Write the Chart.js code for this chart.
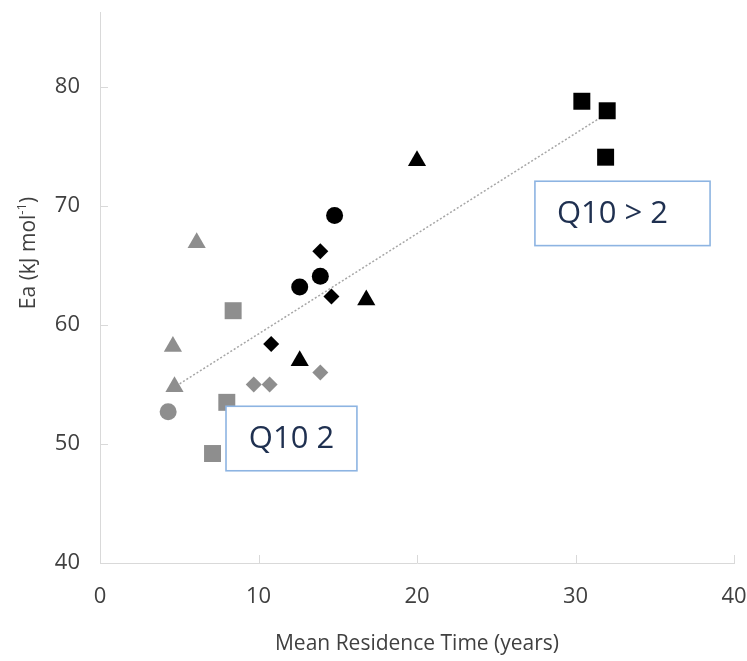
<!DOCTYPE html>
<html><head><meta charset="utf-8">
<script src="https://cdn.jsdelivr.net/npm/chart.js@4.4.1/dist/chart.umd.min.js"></script>
<style>html,body{margin:0;padding:0;background:#fff}#wrap{width:747px;height:661px;position:relative}</style>
</head><body><div id="wrap"><canvas id="c"></canvas></div>
<script>
// ---- data ----
const blackSquaresX = [30.4, 32.0, 31.9];
const blackSquaresY = [78.8, 78.0, 74.1];
const blackTrianglesX = [20.0, 16.8, 12.6];
const blackTrianglesY = [73.8, 62.1, 57.0];
const blackCirclesX = [14.8, 13.9, 12.6];
const blackCirclesY = [69.2, 64.1, 63.2];
const blackDiamondsX = [13.9, 14.6, 10.8];
const blackDiamondsY = [66.2, 62.4, 58.4];
const grayTrianglesX = [6.1, 4.6, 4.7];
const grayTrianglesY = [66.9, 58.2, 54.8];
const graySquaresX = [8.4, 8.0, 7.1];
const graySquaresY = [61.2, 53.5, 49.2];
const grayDiamondsX = [13.9, 9.7, 10.7];
const grayDiamondsY = [56.0, 55.0, 55.0];
const grayCirclesX = [4.3];
const grayCirclesY = [52.7];
const trendX = [4.6, 31.9];
const trendY = [54.7, 77.7];

const xTicks = [0, 10, 20, 30, 40];
const yTicks = [40, 50, 60, 70, 80];
const xTitle = 'Mean Residence Time (years)';
const yTitleMain = 'Ea (kJ mol';
const yTitleSup = '-1';
const yTitleEnd = ')';
const noteLabels = ['Q10 > 2', 'Q10 2'];
// annotation boxes in data units: [xLeft, xRight, yTop, yBottom]
const noteBoxes = [[27.44, 38.49, 72.08, 66.67], [7.95, 16.21, 53.17, 47.75]];
const noteAlign = ['left', 'center'];

// ---- styles ----
const BLACK = '#000000';
const GRAY = '#8e8e8e';
const AXIS = '#d9d9d9';
const TEXT = '#404040';
const NOTE_TEXT = '#1f3050';
const NOTE_BORDER = '#8db4e2';
const FONT = "'Open Sans', 'DejaVu Sans', sans-serif";

const pts = (xs, ys) => xs.map((x, i) => ({x, y: ys[i]}));
const sc = (label, xs, ys, color, style, r) => ({
  type: 'scatter', label, data: pts(xs, ys), pointStyle: style, pointRadius: r, pointHoverRadius: r,
  backgroundColor: color, borderColor: color, borderWidth: 0, order: 0
});
const noPad = s => { s.paddingTop = 0; s.paddingBottom = 0; s.paddingLeft = 0; s.paddingRight = 0; };

const inwardTicks = {
  id: 'inwardTicks',
  beforeDatasetsDraw(chart) {
    const {ctx, scales: {x, y}} = chart;
    ctx.save();
    ctx.strokeStyle = AXIS; ctx.lineWidth = 1;
    xTicks.forEach(v => {
      if (v === xTicks[0]) return;
      const px = Math.round(x.getPixelForValue(v)) + 0.5;
      ctx.beginPath(); ctx.moveTo(px, y.bottom); ctx.lineTo(px, y.bottom - 8); ctx.stroke();
    });
    yTicks.forEach(v => {
      if (v === yTicks[0]) return;
      const py = Math.round(y.getPixelForValue(v)) + 0.5;
      ctx.beginPath(); ctx.moveTo(x.left, py); ctx.lineTo(x.left + 8, py); ctx.stroke();
    });
    ctx.restore();
  }
};

const notes = {
  id: 'notes',
  afterDatasetsDraw(chart) {
    const {ctx, scales: {x, y}} = chart;
    ctx.save();
    noteBoxes.forEach((b, i) => {
      const l = x.getPixelForValue(b[0]), r = x.getPixelForValue(b[1]);
      const t = y.getPixelForValue(b[2]), btm = y.getPixelForValue(b[3]);
      ctx.fillStyle = '#ffffff';
      ctx.fillRect(l, t, r - l, btm - t);
      ctx.strokeStyle = NOTE_BORDER; ctx.lineWidth = 1.6;
      ctx.strokeRect(l, t, r - l, btm - t);
      ctx.fillStyle = NOTE_TEXT;
      ctx.font = '31px ' + FONT;
      ctx.textBaseline = 'middle';
      if (noteAlign[i] === 'left') { ctx.textAlign = 'left'; ctx.fillText(noteLabels[i], l + 22, (t + btm) / 2 + 1); }
      else { ctx.textAlign = 'center'; ctx.fillText(noteLabels[i], (l + r) / 2, (t + btm) / 2 + 1); }
    });
    ctx.restore();
  }
};

const yTitlePlugin = {
  id: 'yTitle',
  afterDraw(chart) {
    const {ctx} = chart;
    ctx.save();
    ctx.translate(29, 253);
    ctx.rotate(-Math.PI / 2);
    ctx.fillStyle = TEXT;
    ctx.textBaseline = 'middle';
    ctx.textAlign = 'left';
    const f1 = '21px ' + FONT, f2 = '13px ' + FONT;
    ctx.font = f1; const w1 = ctx.measureText(yTitleMain).width; const w3 = ctx.measureText(yTitleEnd).width;
    ctx.font = f2; const w2 = ctx.measureText(yTitleSup).width;
    let sx = -(w1 + w2 + w3) / 2;
    ctx.font = f1; ctx.fillText(yTitleMain, sx, 0); sx += w1;
    ctx.font = f2; ctx.fillText(yTitleSup, sx, -7); sx += w2;
    ctx.font = f1; ctx.fillText(yTitleEnd, sx, 0);
    ctx.restore();
  }
};

new Chart(document.getElementById('c'), {
  type: 'scatter',
  data: {
    datasets: [
      sc('Black squares', blackSquaresX, blackSquaresY, BLACK, 'rect', 12),
      sc('Black triangles', blackTrianglesX, blackTrianglesY, BLACK, 'triangle', 10.5),
      sc('Black circles', blackCirclesX, blackCirclesY, BLACK, 'circle', 8.5),
      sc('Black diamonds', blackDiamondsX, blackDiamondsY, BLACK, 'rectRot', 8),
      sc('Gray triangles', grayTrianglesX, grayTrianglesY, GRAY, 'triangle', 10.5),
      sc('Gray squares', graySquaresX, graySquaresY, GRAY, 'rect', 12),
      sc('Gray diamonds', grayDiamondsX, grayDiamondsY, GRAY, 'rectRot', 8),
      sc('Gray circle', grayCirclesX, grayCirclesY, GRAY, 'circle', 8.5),
      {type: 'line', label: 'Trend', data: pts(trendX, trendY), borderColor: '#a6a6a6', borderWidth: 1.5,
       borderDash: [2, 2], pointRadius: 0, fill: false, order: 10}
    ]
  },
  options: {
    responsive: true, maintainAspectRatio: false, animation: false,
    layout: {padding: {top: 7, right: 13, left: 0, bottom: 0}},
    plugins: {legend: {display: false}, tooltip: {enabled: false}},
    scales: {
      x: {
        type: 'linear', min: 0, max: 40,
        afterFit(s) { s.height = 98; noPad(s); },
        afterBuildTicks(s) { s.ticks = xTicks.map(v => ({value: v})); },
        grid: {drawOnChartArea: false, drawTicks: false},
        border: {display: true, color: AXIS, width: 1},
        ticks: {padding: 21, color: TEXT, font: {family: FONT, size: 22}, includeBounds: false},
        title: {display: true, text: xTitle, color: TEXT, font: {family: FONT, size: 21}, padding: {top: 0, bottom: 4}}
      },
      y: {
        type: 'linear', min: 40, max: 86.3,
        afterFit(s) { s.width = 100; noPad(s); },
        afterBuildTicks(s) { s.ticks = yTicks.map(v => ({value: v})); },
        grid: {drawOnChartArea: false, drawTicks: false},
        border: {display: true, color: AXIS, width: 1},
        ticks: {padding: 20, color: TEXT, font: {family: FONT, size: 22}, includeBounds: false}
      }
    }
  },
  plugins: [inwardTicks, notes, yTitlePlugin]
});
</script></body></html>
